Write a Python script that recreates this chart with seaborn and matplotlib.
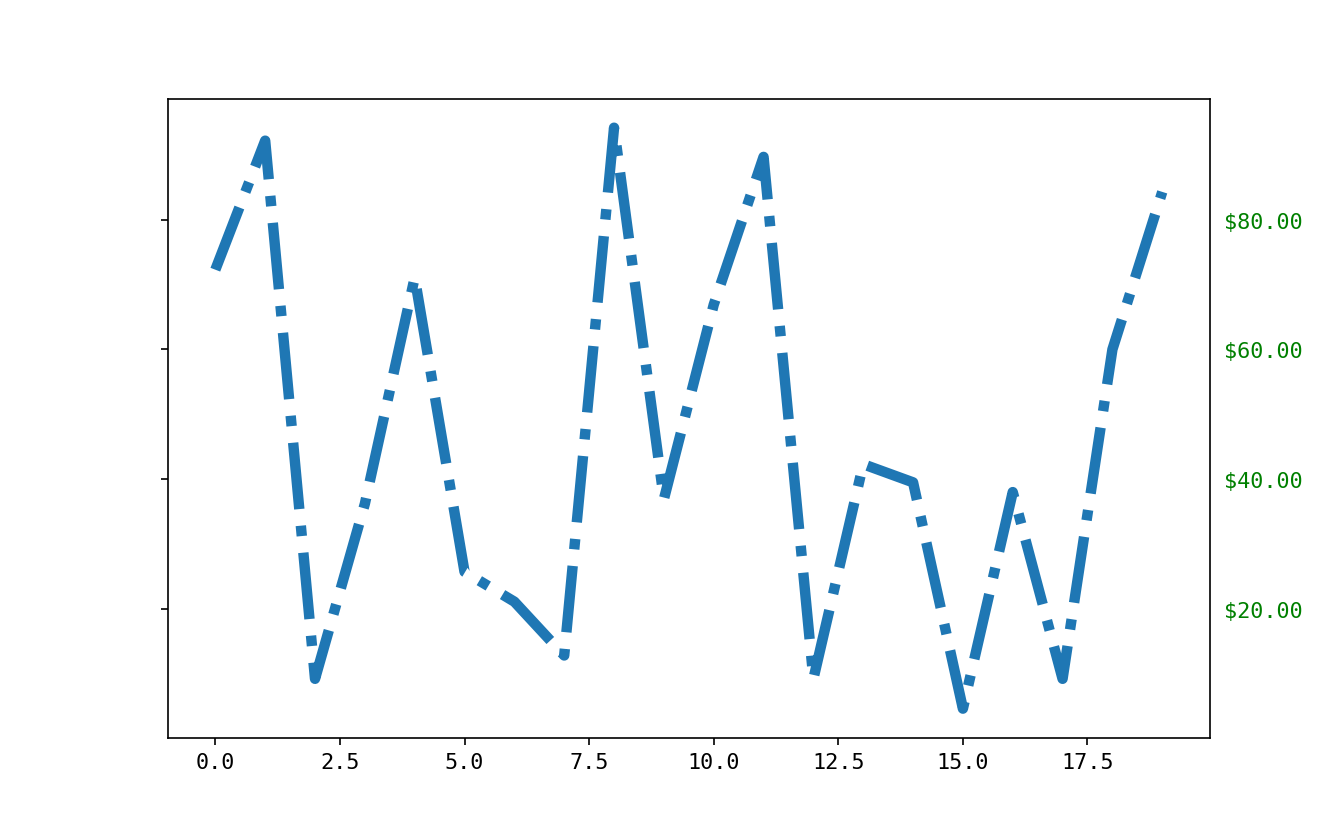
import matplotlib
matplotlib.use("Agg")
import matplotlib.pyplot as plt
import seaborn as sns
import numpy as np

x_values = list(range(20))
y_values = [72.3, 92.2, 9.2, 36.2, 71.1, 25.7, 21.1, 12.8, 94.2, 36.9,
            66.9, 89.7, 9.2, 42.3, 39.5, 4.6, 38.0, 9.2, 60.0, 84.3]

plt.rcParams['font.family'] = ['DejaVu Sans Mono', 'DejaVu Sans']
plt.rcParams['font.size'] = 10.5

fig, ax = plt.subplots(figsize=(8.96, 5.533), dpi=150)
sns.lineplot(x=x_values, y=y_values, ax=ax, linewidth=5, linestyle='-.',
             color='#1f77b4')
ax.yaxis.set_major_formatter('${x:1.2f}')
ax.yaxis.set_tick_params(which='major', labelcolor='green',
                         labelleft=False, labelright=True)
fig.savefig("out.png", dpi=150)
